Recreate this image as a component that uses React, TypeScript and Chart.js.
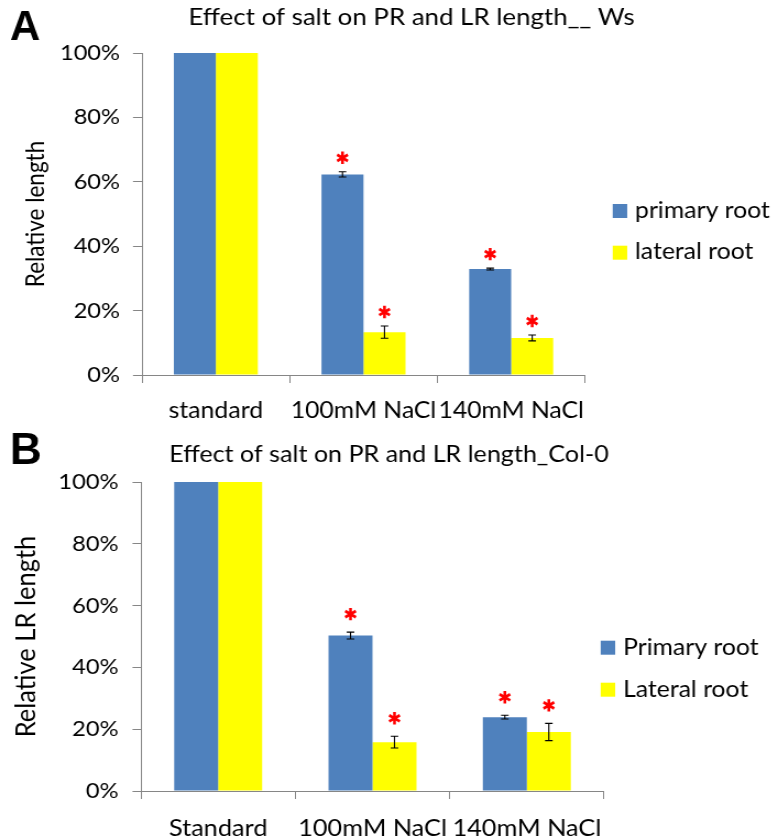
import React, { useEffect, useRef } from "react";
import { Chart, registerables } from "chart.js";

Chart.register(...registerables);

// ---------- data ----------
const categoriesA = ["standard", "100mM NaCl", "140mM NaCl"];
const primaryA = [100, 62.3, 32.9];
const lateralA = [100, 13.3, 11.5];
const primaryErrA = [0, 0.8, 0.3];
const lateralErrA = [0, 1.9, 0.9];
const primarySigA = [false, true, true];
const lateralSigA = [false, true, true];
const legendA = ["primary root", "lateral root"];

const categoriesB = ["Standard", "100mM NaCl", "140mM NaCl"];
const primaryB = [100, 50.3, 23.9];
const lateralB = [100, 15.8, 19.1];
const primaryErrB = [0, 1.1, 0.6];
const lateralErrB = [0, 1.9, 2.8];
const primarySigB = [false, true, true];
const lateralSigB = [false, true, true];
const legendB = ["Primary root", "Lateral root"];

const yTickValues = [0, 20, 40, 60, 80, 100];

// ---------- layout ----------
const CW = 707;
const CH = 420;
const SX = 778 / CW; // horizontal stretch applied by CSS

const BLUE = "#4F81BD";
const YELLOW = "#FFFF00";
const AXIS = "#868686";
const FONT = "Lato";

type Panel = {
  letter: string;
  letterSize: number;
  letterBase: number;
  title: string;
  titleCenter: number;
  titleBase: number;
  titleSize: number;
  categories: string[];
  primary: number[];
  lateral: number[];
  errP: number[];
  errL: number[];
  sigP: boolean[];
  sigL: boolean[];
  legend: string[];
  yTitle: string;
  yTitleSize: number;
  yTitlePad: number;
  left: number;
  right: number;
  top: number;
  bottom: number;
  catPct: number;
  tickFont: number;
  xFont: number;
  xPad: number;
  yTickLen: number;
  yPad: number;
  starOffset: number;
  legX: number;
  legTextX: number;
  legSq: number[];
  legBase: number[];
  legFont: number;
};

const panelA: Panel = {
  letter: "A",
  letterSize: 42,
  letterBase: 40,
  title: "Effect of salt on PR and LR length__ Ws",
  titleCenter: 411.5,
  titleBase: 25,
  titleSize: 23.5,
  categories: categoriesA,
  primary: primaryA,
  lateral: lateralA,
  errP: primaryErrA,
  errL: lateralErrA,
  sigP: primarySigA,
  sigL: lateralSigA,
  legend: legendA,
  yTitle: "Relative length",
  yTitleSize: 22.5,
  yTitlePad: 21.5,
  left: 142,
  right: 585,
  top: 53,
  bottom: 375,
  catPct: 0.569,
  tickFont: 21.5,
  xFont: 22.5,
  xPad: 14,
  yTickLen: 9,
  yPad: 13,
  starOffset: 14,
  legX: 612.7,
  legTextX: 635,
  legSq: [204, 245.7],
  legBase: [218, 259],
  legFont: 22.5,
};

const panelB: Panel = {
  letter: "B",
  letterSize: 44,
  letterBase: 44,
  title: "Effect of salt on PR and LR length_Col-0",
  titleCenter: 389,
  titleBase: 42,
  titleSize: 22.8,
  categories: categoriesB,
  primary: primaryB,
  lateral: lateralB,
  errP: primaryErrB,
  errL: lateralErrB,
  sigP: primarySigB,
  sigL: lateralSigB,
  legend: legendB,
  yTitle: "Relative LR length",
  yTitleSize: 25.5,
  yTitlePad: 11.5,
  left: 141,
  right: 604,
  top: 62,
  bottom: 371,
  catPct: 0.57,
  tickFont: 21.5,
  xFont: 23,
  xPad: 16,
  yTickLen: 8.5,
  yPad: 14,
  starOffset: 18,
  legX: 600.7,
  legTextX: 623,
  legSq: [220.7, 262.7],
  legBase: [235, 277.3],
  legFont: 22.5,
};

function drawStar(ctx: CanvasRenderingContext2D, x: number, y: number) {
  ctx.save();
  ctx.translate(x, y);
  ctx.scale(1 / SX, 1);
  ctx.strokeStyle = "#FF0000";
  ctx.lineWidth = 2.8;
  ctx.beginPath();
  const r = 6.2;
  for (const deg of [90, 30, 150]) {
    const a = (deg * Math.PI) / 180;
    const dx = r * Math.cos(a);
    const dy = r * Math.sin(a);
    ctx.moveTo(-dx, -dy);
    ctx.lineTo(dx, dy);
  }
  ctx.stroke();
  ctx.restore();
}

function PanelChart({ p }: { p: Panel }) {
  const ref = useRef<HTMLCanvasElement>(null);
  useEffect(() => {
    const canvas = ref.current;
    if (!canvas) return;
    const overlay = {
      id: "overlay",
      afterDatasetsDraw(chart: any) {
        const ctx: CanvasRenderingContext2D = chart.ctx;
        const ys = chart.scales.y;
        const sets = [
          { vals: p.primary, errs: p.errP, sig: p.sigP },
          { vals: p.lateral, errs: p.errL, sig: p.sigL },
        ];
        sets.forEach((s, di) => {
          const meta = chart.getDatasetMeta(di);
          meta.data.forEach((bar: any, i: number) => {
            const v = s.vals[i];
            const e = s.errs[i];
            const x = bar.x;
            const yt = ys.getPixelForValue(v + e);
            if (e > 0) {
              const yb = ys.getPixelForValue(v - e);
              const cw = 3.8 / SX;
              ctx.save();
              ctx.strokeStyle = "#000";
              ctx.lineWidth = 1.1;
              ctx.beginPath();
              ctx.moveTo(x, yt);
              ctx.lineTo(x, yb);
              ctx.moveTo(x - cw, yt);
              ctx.lineTo(x + cw, yt);
              ctx.moveTo(x - cw, yb);
              ctx.lineTo(x + cw, yb);
              ctx.stroke();
              ctx.restore();
            }
            if (s.sig[i]) drawStar(ctx, x, yt - p.starOffset);
          });
        });
      },
      afterDraw(chart: any) {
        const ctx: CanvasRenderingContext2D = chart.ctx;
        ctx.save();
        // title
        ctx.fillStyle = "#000";
        ctx.font = `${p.titleSize}px ${FONT}`;
        ctx.textAlign = "center";
        ctx.textBaseline = "alphabetic";
        ctx.fillText(p.title, p.titleCenter / SX, p.titleBase);
        // legend
        const colors = [BLUE, YELLOW];
        ctx.textAlign = "left";
        ctx.font = `${p.legFont}px ${FONT}`;
        for (let i = 0; i < 2; i++) {
          ctx.fillStyle = colors[i];
          ctx.fillRect(p.legX / SX, p.legSq[i], 14.5 / SX, 14);
          ctx.fillStyle = "#000";
          ctx.fillText(p.legend[i], p.legTextX / SX, p.legBase[i]);
        }
        // panel letter (not stretched)
        ctx.scale(1 / SX, 1);
        ctx.font = `bold ${p.letterSize}px "Liberation Sans"`;
        ctx.fillText(p.letter, 10, p.letterBase);
        ctx.restore();
      },
    };
    const chart = new Chart(canvas, {
      type: "bar",
      data: {
        labels: p.categories,
        datasets: [
          {
            label: p.legend[0],
            data: p.primary,
            backgroundColor: BLUE,
            borderWidth: 0,
            barPercentage: 1,
            categoryPercentage: p.catPct,
          },
          {
            label: p.legend[1],
            data: p.lateral,
            backgroundColor: YELLOW,
            borderWidth: 0,
            barPercentage: 1,
            categoryPercentage: p.catPct,
          },
        ],
      },
      options: {
        animation: false,
        responsive: false,
        devicePixelRatio: 1,
        layout: {
          padding: { top: p.top, right: CW - p.right / SX, bottom: 0, left: 0 },
        },
        plugins: {
          legend: { display: false },
          title: { display: false },
          tooltip: { enabled: false },
        },
        scales: {
          x: {
            afterFit: (s: any) => {
              s.height = CH - p.bottom;
            },
            grid: {
              display: true,
              drawOnChartArea: false,
              drawTicks: true,
              tickLength: 8,
              color: AXIS,
              offset: true,
            },
            border: { display: true, color: AXIS, width: 1 },
            ticks: {
              color: "#000",
              font: { family: FONT, size: p.xFont },
              padding: p.xPad,
              maxRotation: 0,
              autoSkip: false,
            },
          },
          y: {
            min: 0,
            max: 100,
            afterFit: (s: any) => {
              s.width = p.left / SX;
            },
            afterBuildTicks: (s: any) => {
              s.ticks = yTickValues.map((v) => ({ value: v }));
            },
            grid: {
              display: true,
              drawOnChartArea: false,
              drawTicks: true,
              tickLength: p.yTickLen / SX,
              color: AXIS,
            },
            border: { display: true, color: AXIS, width: 1 },
            ticks: {
              color: "#000",
              font: { family: FONT, size: p.tickFont },
              padding: p.yPad / SX,
              callback: (v: any) => `${v}%`,
            },
            title: {
              display: true,
              text: p.yTitle,
              color: "#000",
              font: { family: FONT, size: p.yTitleSize, lineHeight: 1 },
              padding: { top: p.yTitlePad, bottom: 0 },
            },
          },
        },
      },
      plugins: [overlay],
    } as any);
    return () => chart.destroy();
  }, [p]);
  return (
    <canvas
      ref={ref}
      width={CW}
      height={CH}
      style={{ display: "block", width: "778px", height: `${CH}px` }}
    />
  );
}

export default function App() {
  return (
    <div
      style={{
        position: "absolute",
        left: 0,
        top: 0,
        width: 778,
        height: 840,
        background: "#fff",
      }}
    >
      <PanelChart p={panelA} />
      <PanelChart p={panelB} />
    </div>
  );
}
